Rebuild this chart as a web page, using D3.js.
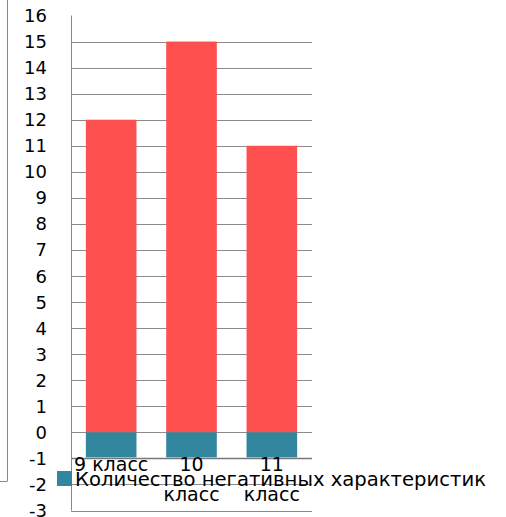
<!DOCTYPE html>
<html>
<head>
<meta charset="utf-8">
<script src="https://cdnjs.cloudflare.com/ajax/libs/d3/7.8.5/d3.min.js"></script>
<style>
  body { margin: 0; background: #fff; }
  svg text { font-family: "DejaVu Sans", sans-serif; fill: #000; }
</style>
</head>
<body>
<div id="chart"></div>
<script>
// data
var categories = [["9 класс"], ["10", "класс"], ["11", "класс"]];
var positiveValues = [12, 15, 11];
var negativeValues = [-1, -1, -1];
var negativeName = "Количество негативных характеристик";
var yTicks = d3.range(-3, 17);

var W = 506, H = 517;
var svg = d3.select("#chart").append("svg").attr("width", W).attr("height", H);

// plot area
var x0 = 71, x1 = 312;
var y = d3.scaleLinear().domain([-3, 16]).range([510.5, 15.5]);
var x = d3.scaleBand().domain(d3.range(categories.length)).range([x0, x1]).paddingInner(0.37).paddingOuter(0.185);

// stray frame lines on left
svg.append("line").attr("x1", 7.5).attr("x2", 7.5).attr("y1", 0).attr("y2", 481)
  .attr("stroke", "#888").attr("stroke-width", 1);
svg.append("line").attr("x1", 0).attr("x2", 7.5).attr("y1", 481.5).attr("y2", 481.5)
  .attr("stroke", "#888").attr("stroke-width", 1);

// gridlines
svg.append("g").selectAll("line").data(yTicks.filter(function(d) { return d < 16; }))
  .enter().append("line")
  .attr("x1", x0).attr("x2", x1)
  .attr("y1", function(d) { return Math.round(y(d)) + 0.5; })
  .attr("y2", function(d) { return Math.round(y(d)) + 0.5; })
  .attr("stroke", function(d) { return d === -1 ? "#777" : "#8c8c8c"; })
  .attr("stroke-width", function(d) { return d === -1 ? 1.5 : 1; });

// y axis line
svg.append("line").attr("x1", x0 + 0.5).attr("x2", x0 + 0.5).attr("y1", y(16)).attr("y2", y(-3))
  .attr("stroke", "#888");

// bars
svg.append("g").selectAll("rect").data(positiveValues).enter().append("rect")
  .attr("x", function(d, i) { return x(i); })
  .attr("width", x.bandwidth())
  .attr("y", function(d) { return y(d); })
  .attr("height", function(d) { return y(0) - y(d); })
  .attr("fill", "#ff5050");

svg.append("g").selectAll("rect").data(negativeValues).enter().append("rect")
  .attr("x", function(d, i) { return x(i); })
  .attr("width", x.bandwidth())
  .attr("y", function(d) { return y(0); })
  .attr("height", function(d) { return y(d) - y(0) - 1; })
  .attr("fill", "#31859c");

// y tick labels
svg.append("g").selectAll("text").data(yTicks).enter().append("text")
  .attr("x", 47).attr("y", function(d) { return y(d); })
  .attr("dy", "0.36em")
  .attr("text-anchor", "end")
  .style("font-size", "18px")
  .text(function(d) { return d; });

// category labels
var cat = svg.append("g").selectAll("text").data(categories).enter().append("text")
  .attr("text-anchor", "middle")
  .style("font-size", "19px");
cat.selectAll("tspan").data(function(d, i) { return d.map(function(t) { return { t: t, i: i }; }); })
  .enter().append("tspan")
  .attr("x", function(d) { return x(d.i) + x.bandwidth() / 2; })
  .attr("y", function(d, j) { return 471 + j * 30; })
  .text(function(d) { return d.t; });

// legend
svg.append("rect").attr("x", 57).attr("y", 471).attr("width", 15).attr("height", 15).attr("fill", "#31859c");
svg.append("text").attr("x", 75).attr("y", 486).style("font-size", "19.6px").text(negativeName);
</script>
</body>
</html>
